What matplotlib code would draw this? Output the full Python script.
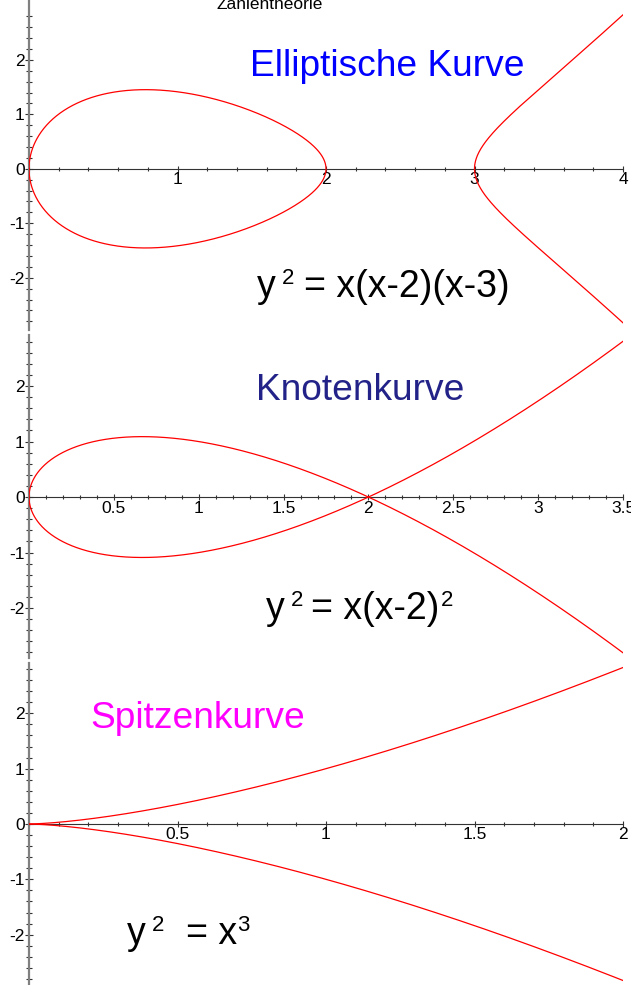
import numpy as np
import matplotlib.pyplot as plt
from matplotlib.ticker import FixedLocator, MultipleLocator

plt.rcParams['font.family'] = ['Liberation Sans', 'DejaVu Sans']
plt.rcParams['axes.unicode_minus'] = False

# Kurven y^2 = f(x)
ellip_oval = (0.0, 2.0)
ellip_branch = (3.0, 4.0)
knoten_range = (0.0, 3.5)
spitzen_range = (0.0, 2.0)

# Achsenbeschriftungen
x1_ticks = [1, 2, 3, 4]
x1_labels = ['1', '2', '3', '4']
x2_ticks = [0.5, 1, 1.5, 2, 2.5, 3, 3.5]
x2_labels = ['0.5', '1', '1.5', '2', '2.5', '3', '3.5']
x3_ticks = [0.5, 1, 1.5, 2]
x3_labels = ['0.5', '1', '1.5', '2']
y_ticks = [-2, -1, 0, 1, 2]
y_labels = ['-2', '-1', '0', '1', '2']

names = ['Elliptische Kurve', 'Knotenkurve', 'Spitzenkurve']
name_colors = ['#0000ff', '#222288', '#ff00ff']

W, H = 631, 985
fig = plt.figure(figsize=(W / 100, H / 100), dpi=100)


def px(x, y):
    return x / W, 1 - y / H


def make_axes(top, bottom, ylim, xlim, xt, xl, xminor):
    ax = fig.add_axes([29 / W, 1 - bottom / H, 594 / W, (bottom - top) / H])
    ax.patch.set_visible(False)
    ax.set_xlim(*xlim)
    ax.set_ylim(*ylim)
    for s in ['top', 'right']:
        ax.spines[s].set_visible(False)
    ax.spines['left'].set_position(('data', 0))
    ax.spines['bottom'].set_position(('data', 0))
    ax.spines['left'].set_color('#808080')
    ax.spines['left'].set_linewidth(1.6)
    ax.spines['bottom'].set_color('#333333')
    ax.spines['bottom'].set_linewidth(0.8)
    ax.set_xticks(xt)
    ax.set_xticklabels(xl)
    ax.set_yticks(y_ticks)
    ax.set_yticklabels(y_labels)
    ax.xaxis.set_minor_locator(MultipleLocator(xminor))
    ax.yaxis.set_minor_locator(FixedLocator(np.round(np.arange(-2.8, 2.81, 0.2), 1)))
    ax.tick_params(axis='y', which='major', direction='inout', length=6, width=0.8,
                   color='#333333', labelsize=12.5, pad=0)
    ax.tick_params(axis='y', which='minor', direction='inout', length=5, width=0.8,
                   color='#333333')
    ax.tick_params(axis='x', which='major', direction='inout', length=5, width=0.8,
                   color='#333333', labelsize=12.5, pad=0)
    ax.tick_params(axis='x', which='minor', direction='inout', length=3.5, width=0.8,
                   color='#333333')
    return ax


def both_halves(x, y):
    return np.concatenate([x, x[::-1]]), np.concatenate([y, -y[::-1]])


line_kw = dict(color='red', lw=0.9, zorder=3)

# Elliptische Kurve
ax1 = make_axes(0, 330, (-2.96, 3.1), (0, 4), x1_ticks, x1_labels, 0.2)
t = np.linspace(0, np.pi, 600)
xo = ellip_oval[0] + (ellip_oval[1] - ellip_oval[0]) * (1 - np.cos(t)) / 2
yo = np.sqrt(np.clip(xo * (xo - 2) * (xo - 3), 0, None))
ax1.plot(*both_halves(xo, yo), **line_kw)
s = np.linspace(0, 1, 400)
xb = ellip_branch[0] + (ellip_branch[1] - ellip_branch[0]) * s ** 2
yb = np.sqrt(np.clip(xb * (xb - 2) * (xb - 3), 0, None))
ax1.plot(np.concatenate([xb[::-1], xb]), np.concatenate([yb[::-1], -yb]), **line_kw)

# Knotenkurve
ax2 = make_axes(335, 658, (-2.9, 2.92), (0, 3.5), x2_ticks, x2_labels, 0.1)
xk = knoten_range[0] + (knoten_range[1] - knoten_range[0]) * np.linspace(0, 1, 600) ** 2
yk = np.sqrt(xk) * (xk - 2)
ax2.plot(xk, yk, **line_kw)
ax2.plot(xk, -yk, **line_kw)

# Spitzenkurve
ax3 = make_axes(663, 985, (-2.91, 2.91), (0, 2), x3_ticks, x3_labels, 0.1)
xs = np.linspace(*spitzen_range, 400)
ys = xs ** 1.5
ax3.plot(xs, ys, **line_kw)
ax3.plot(xs, -ys, **line_kw)

fig.text(*px(270, 9), 'Zahlentheorie', ha='center', va='baseline', fontsize=12.5)

name_pos = [(250, 76), (256, 400), (90, 728)]
for n, c, (x, y) in zip(names, name_colors, name_pos):
    fig.text(*px(x, y), n, color=c, fontsize=26.7, ha='left', va='baseline')

renderer = fig.canvas.get_renderer()


def equation(x0, base, pieces):
    # pieces: (text, fontsize, rise in px, gap after in px)
    x = x0
    for txt, size, rise, gap in pieces:
        tt = fig.text(*px(x, base - rise), txt, fontsize=size, ha='left', va='baseline')
        x += tt.get_window_extent(renderer).width + gap


equation(257, 297, [('y', 27, 0, 6), ('2', 16, 13, 10), ('= x(x-2)(x-3)', 27, 0, 0)])
equation(266, 619, [('y', 27, 0, 6), ('2', 16, 13, 8), ('= x(x-2)', 27, 0, 1), ('2', 16, 13, 0)])
equation(127, 944, [('y', 27, 0, 6), ('2', 16, 13, 22), ('= x', 27, 0, 0), ('3', 16, 13, 0)])

fig.savefig('out.png', dpi=100)
